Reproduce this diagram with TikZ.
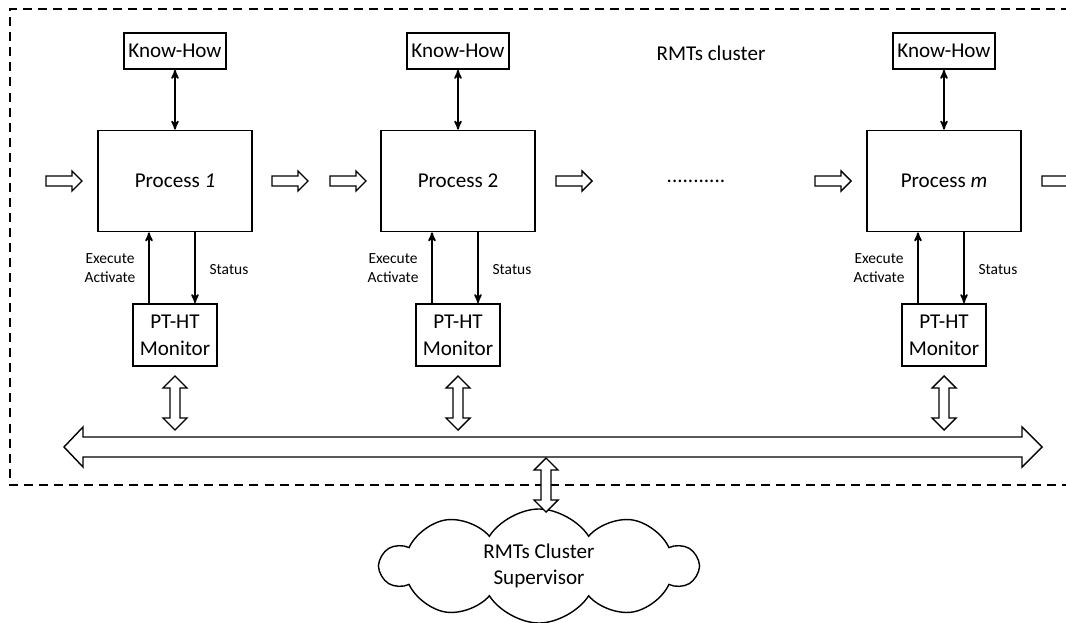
\documentclass[tikz,border=0pt]{standalone}
\usepackage{fontspec}
\setmainfont{Carlito}
\usetikzlibrary{arrows, shapes.symbols}

\begin{document}
\begin{tikzpicture}[
      x=0.025cm, y=-0.025cm,
      >=stealth',
      box/.style={draw, line width=1.3pt, inner sep=1pt, font=\fontsize{15}{19}\selectfont},
      know how/.style={box, minimum width=2.55cm, minimum height=0.9cm},
      process/.style={box, minimum width=3.85cm, minimum height=2.525cm},
      monitor/.style={box, align=center, minimum width=2.1cm, minimum height=1.55cm},
      signal/.style={->, line width=1.2pt},
      small label/.style={font=\fontsize{11}{14}\selectfont, align=center},
      big label/.style={font=\fontsize{15}{18}\selectfont, align=center},
      block arrow/.style={draw, line width=1pt, fill=white, line join=miter},
      cluster frame/.style={line width=1.8pt, dash pattern=on 6.4pt off 4.3pt}
      ]
      \clip (0,0) rectangle (1066,623);
      % cluster frame
      \draw [cluster frame] (1070,9) -- (10,9) -- (10,485) -- (1070,485);
      \node [big label] (cluster) at (711,53) {RMTs cluster};
      % processes
      \foreach \c/\x/\t in {1/175/\textit{1}, 2/458/2, m/944/\textit{m}} {
          \node [know how] (kh\c) at (\x,51) {Know-How};
          \node [process] (proc\c) at (\x,181) {Process \t};
          \node [monitor] (mon\c) at (\x,335) {PT-HT\\Monitor};
          \draw [<->, line width=1.2pt] (kh\c) -- (proc\c);
          \draw [signal] ([xshift=-0.65cm]mon\c.north) -- ([xshift=-0.65cm]proc\c.south);
          \draw [signal] ([xshift=0.5cm]proc\c.south) -- ([xshift=0.5cm]mon\c.north);
          \node [small label] (exec\c) at (\x-65,268) {Execute\\Activate};
          \node [small label] (status\c) at (\x+54,270) {Status};
          % monitor - bus
          \draw [block arrow] (\x,376) -- ++(12,12) -- ++(-7,0) -- ++(0,30) -- ++(7,0) -- ++(-12,12)
              -- ++(-12,-12) -- ++(7,0) -- ++(0,-30) -- ++(-7,0) -- cycle;
      }
      \node [big label] (dots) at (696,181) {...........};
      % flow arrows
      \foreach \s in {46,272,330,556,815,1042} {
          \draw [block arrow] (\s,176) -- ++(26,0) -- ++(0,-5) -- ++(10,10) -- ++(-10,10)
              -- ++(0,-5) -- ++(-26,0) -- cycle;
      }
      % bus
      \draw [block arrow] (64,447) -- (83,427) -- (83,437) -- (1022,437) -- (1022,427) -- (1042,447)
          -- (1022,467) -- (1022,457) -- (83,457) -- (83,467) -- cycle;
      % supervisor
      \node [cloud, draw, line width=1pt, cloud puffs=10, cloud puff arc=115, aspect=2.7,
          minimum width=7.9cm, minimum height=2.85cm, big label] (super) at (539,566)
          {RMTs Cluster\\Supervisor};
      \draw [block arrow] (546,458) -- ++(12,12) -- ++(-7,0) -- ++(0,30) -- ++(7,0) -- ++(-12,12)
          -- ++(-12,-12) -- ++(7,0) -- ++(0,-30) -- ++(-7,0) -- cycle;
    \end{tikzpicture}
\end{document}
